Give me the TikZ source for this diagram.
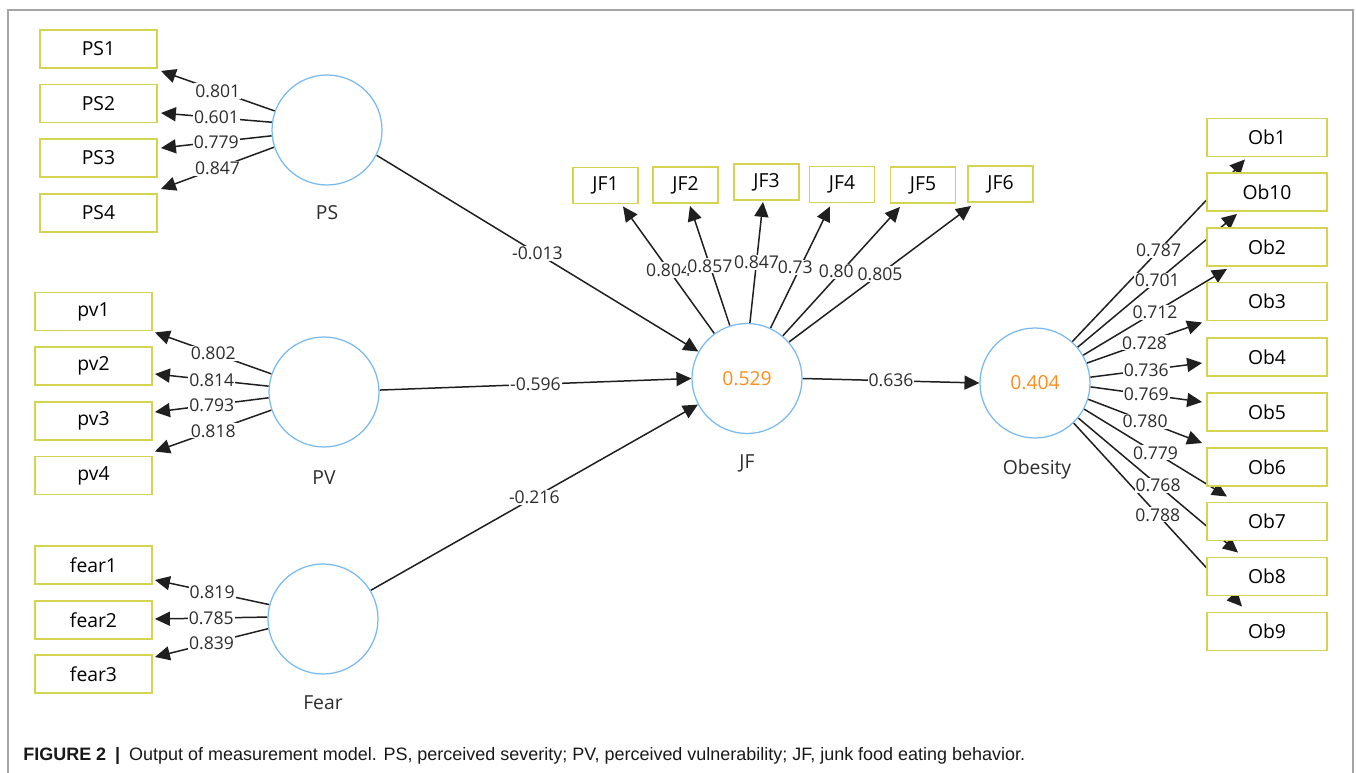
\documentclass[tikz,border=0pt]{standalone}
\usepackage{fontspec}
\setmainfont{Open Sans}
\newfontfamily\capfont{Liberation Sans}
\usetikzlibrary{arrows.meta,calc}
\pgfdeclarelayer{bg}
\pgfsetlayers{bg,main}
\definecolor{boxcol}{RGB}{212,212,80}
\definecolor{latcol}{RGB}{120,185,240}
\definecolor{rcol}{RGB}{255,140,30}
\definecolor{txtcol}{RGB}{45,45,45}
\definecolor{framecol}{RGB}{165,165,165}
\begin{document}
\begin{tikzpicture}[x=0.02cm,y=-0.02cm,
  ind/.style={draw=boxcol,line width=1.1pt,fill=white,minimum width=2.34cm,minimum height=0.76cm,inner sep=0pt,font=\fontsize{11}{13}\selectfont},
  jfbox/.style={ind,minimum width=1.3cm,minimum height=0.72cm},
  obbox/.style={ind,minimum width=2.4cm},
  lat/.style={circle,draw=latcol,line width=0.7pt,fill=white,minimum size=2.2cm,inner sep=0pt,font=\fontsize{11}{13}\selectfont,text=rcol},
  latlab/.style={font=\fontsize{11}{13}\selectfont,text=txtcol},
  conn/.style={draw=black!88,line width=0.85pt,-{Triangle[length=8.5pt,width=8pt]}},
  lab/.style={fill=white,inner sep=0.6pt,font=\fontsize{10}{12}\selectfont,text=txtcol}]
\useasboundingbox (0,0) rectangle (1356,773);
% frame
\draw[framecol,line width=0.6pt] (8,773) -- (8,10) -- (1353,10) -- (1353,773);

% indicator boxes
\node[ind] (PS1) at (98.5,49) {PS1};
\node[ind] (PS2) at (98.5,103.5) {PS2};
\node[ind] (PS3) at (98.5,158) {PS3};
\node[ind] (PS4) at (98.5,213) {PS4};
\node[ind] (pv1) at (93.5,311.5) {pv1};
\node[ind] (pv2) at (93.5,366) {pv2};
\node[ind] (pv3) at (93.5,421) {pv3};
\node[ind] (pv4) at (93.5,475.5) {pv4};
\node[ind] (fear1) at (93.5,565) {fear1};
\node[ind] (fear2) at (93.5,620) {fear2};
\node[ind] (fear3) at (93.5,674) {fear3};
\node[jfbox] (JF1) at (605.5,185.5) {JF1};
\node[jfbox] (JF2) at (685.5,185) {JF2};
\node[jfbox] (JF3) at (766.5,182) {JF3};
\node[jfbox] (JF4) at (842,184.5) {JF4};
\node[jfbox] (JF5) at (923,185) {JF5};
\node[jfbox] (JF6) at (1000.5,184) {JF6};
\node[obbox] (Ob1) at (1267,137.5) {Ob1};
\node[obbox] (Ob10) at (1267,192) {Ob10};
\node[obbox] (Ob2) at (1267,247) {Ob2};
\node[obbox] (Ob3) at (1267,301.5) {Ob3};
\node[obbox] (Ob4) at (1267,357) {Ob4};
\node[obbox] (Ob5) at (1267,412) {Ob5};
\node[obbox] (Ob6) at (1267,467) {Ob6};
\node[obbox] (Ob7) at (1267,521.5) {Ob7};
\node[obbox] (Ob8) at (1267,576.5) {Ob8};
\node[obbox] (Ob9) at (1267,631.5) {Ob9};

% latent variables
\node[lat] (PS) at (327,130) {};
\node[lat] (PV) at (324,392) {};
\node[lat] (Fear) at (323,619) {};
\node[lat] (JF) at (747,378.5) {0.529};
\node[lat] (OBS) at (1035,383) {0.404};
\node[latlab] (PSl) at (327,213) {PS};
\node[latlab] (PVl) at (324,478) {PV};
\node[latlab] (Fearl) at (323,703) {Fear};
\node[latlab] (JFl) at (747,463) {JF};
\node[latlab] (OBSl) at (1037,469) {Obesity};

\begin{pgfonlayer}{bg}
% PS loadings
\path[conn] (PS.160) -- ($(PS1.south east)+(3,2)$) coordinate[midway] (mPS1);
\path[conn] (PS.172) -- ($(PS2.east)+(3,9.5)$) coordinate[midway] (mPS2);
\path[conn] (PS.186) -- ($(PS3.east)+(3,-10)$) coordinate[midway] (mPS3);
\path[conn] (PS.198) -- ($(PS4.north east)+(3,-4)$) coordinate[midway] (mPS4);
% PV loadings
\path[conn] (PV.161) -- ($(pv1.south east)+(2,1)$) coordinate[midway] (mpv1);
\path[conn] (PV.174) -- ($(pv2.east)+(2,8)$) coordinate[midway] (mpv2);
\path[conn] (PV.186) -- ($(pv3.east)+(2,-9)$) coordinate[midway] (mpv3);
\path[conn] (PV.199) -- ($(pv4.north east)+(2,-4)$) coordinate[midway] (mpv4);
% Fear loadings
\path[conn] (Fear.165) -- ($(fear1.east)+(2,15)$) coordinate[midway] (mf1);
\path[conn] (Fear.178) -- ($(fear2.east)+(2,-1)$) coordinate[midway] (mf2);
\path[conn] (Fear.190) -- ($(fear3.east)+(2,-17)$) coordinate[midway] (mf3);
% JF loadings
\path[conn] (JF.126) -- ($(JF1.south)+(17.5,2)$) coordinate[midway] (mj1);
\path[conn] (JF.108.6) -- ($(JF2.south)+(4.5,2)$) coordinate[midway] (mj2);
\path[conn] (JF.87) -- ($(JF3.south)+(-3.5,1)$) coordinate[midway] (mj3);
\path[conn] (JF.65) -- ($(JF4.south)+(-12,3)$) coordinate[midway] (mj4);
\path[conn] (JF.50.5) -- ($(JF5.south)+(-23,3)$) coordinate[midway] (mj5);
\path[conn] (JF.41) -- ($(JF6.south west)+(4,3)$) coordinate[midway] (mj6);
% Obesity loadings
\path[conn] (OBS.48.5) -- ($(Ob1.south)+(-22,2)$) coordinate[midway] (mo1);
\path[conn] (OBS.40) -- ($(Ob10.south)+(-30,2)$) coordinate[midway] (mo10);
\path[conn] (OBS.30) -- ($(Ob2.south)+(-40,2)$) coordinate[midway] (mo2);
\path[conn] (OBS.21) -- ($(Ob3.south west)+(-4,1)$) coordinate[midway] (mo3);
\path[conn] (OBS.6) -- ($(Ob4.west)+(-4,6)$) coordinate[midway] (mo4);
\path[conn] (OBS.356) -- ($(Ob5.west)+(-4,-10)$) coordinate[midway] (mo5);
\path[conn] (OBS.343) -- ($(Ob6.north west)+(-4,-4)$) coordinate[midway] (mo6);
\path[conn] (OBS.332) -- ($(Ob7.north)+(-40,-5)$) coordinate[midway] (mo7);
\path[conn] (OBS.321) -- ($(Ob8.north)+(-29,-4)$) coordinate[midway] (mo8);
\path[conn] (OBS.314) -- ($(Ob9.north)+(-25,-5)$) coordinate[midway] (mo9);
% structural paths
\path[conn] (PS.333) -- (JF.151) coordinate[midway] (s1);
\path[conn] (PV.2) -- (JF.180) coordinate[midway] (s2);
\path[conn] (Fear.31.5) -- (JF.208) coordinate[midway] (s3);
\path[conn] (JF.0) -- (OBS.180) coordinate[midway] (s4);
\end{pgfonlayer}

% labels
\node[lab] at (mPS1) {0.801};
\node[lab] at (mPS2) {0.601};
\node[lab] at (mPS3) {0.779};
\node[lab] at (mPS4) {0.847};
\node[lab] at (mpv1) {0.802};
\node[lab] at (mpv2) {0.814};
\node[lab] at (mpv3) {0.793};
\node[lab] at (mpv4) {0.818};
\node[lab] at (mf1) {0.819};
\node[lab] at (mf2) {0.785};
\node[lab] at (mf3) {0.839};
\node[lab] at (mj1) {0.804};
\node[lab] at (mj2) {0.857};
\node[lab] at (mj3) {0.847};
\node[lab] at (mj4) {0.73\phantom{0}};
\node[lab] at (mj5) {0.80\phantom{0}};
\node[lab] at (mj6) {0.805};
\node[lab] at (mo1) {0.787};
\node[lab] at (mo10) {0.701};
\node[lab] at (mo2) {0.712};
\node[lab] at (mo3) {0.728};
\node[lab] at (mo4) {0.736};
\node[lab] at (mo5) {0.769};
\node[lab] at (mo6) {0.780};
\node[lab] at (mo7) {0.779};
\node[lab] at (mo8) {0.768};
\node[lab] at (mo9) {0.788};
\node[lab] at (s1) {-0.013};
\node[lab] at (s2) {-0.596};
\node[lab] at (s3) {-0.216};
\node[lab] at (s4) {0.636};

% caption
\node[anchor=base west,inner sep=0pt,text=black!90] (cap) at (23,760)
  {\resizebox{20.04cm}{!}{\capfont\fontsize{9.5}{11}\selectfont\textbf{FIGURE 2}\enspace\textbf{|}\enspace Output of measurement model. PS, perceived severity; PV, perceived vulnerability; JF, junk food eating behavior.}};
\end{tikzpicture}
\end{document}
